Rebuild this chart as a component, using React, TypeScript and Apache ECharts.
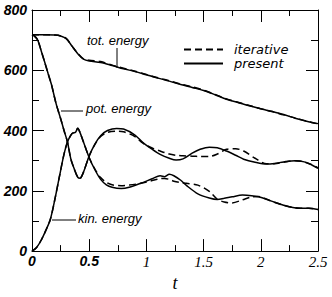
import React, { useEffect, useRef } from "react";
import * as echarts from "echarts";

// ---- data ----
const xTicks = [0, 0.5, 1, 1.5, 2, 2.5];
const yTicks = [0, 200, 400, 600, 800];

const tTot = [0, 0.1, 0.2, 0.25, 0.3, 0.35, 0.4, 0.45, 0.5, 0.6, 0.7, 0.8, 0.9, 1.0, 1.1, 1.2, 1.3, 1.4, 1.5, 1.6, 1.7, 1.8, 1.9, 2.0, 2.1, 2.2, 2.3, 2.4, 2.5];
const totPresent = [718, 718, 717, 714, 705, 680, 655, 637, 631, 626, 616, 605, 596, 585, 574, 564, 553, 543, 533, 519, 504, 493, 482, 472, 463, 453, 441, 431, 423];
const totIterative = [718, 718, 717, 714, 705, 680, 656, 638, 633, 629, 617, 607, 597, 586, 575, 565, 554, 545, 534, 520, 505, 494, 483, 472, 463, 452, 442, 431, 422];

const tPot = [0, 0.02, 0.05, 0.08, 0.11, 0.14, 0.17, 0.21, 0.25, 0.28, 0.31, 0.34, 0.37, 0.4, 0.42, 0.45, 0.5, 0.55, 0.6, 0.66, 0.74, 0.8, 0.9, 0.97, 1.05, 1.12, 1.2, 1.26, 1.32, 1.4, 1.47, 1.55, 1.62, 1.7, 1.78, 1.85, 1.95, 2.05, 2.12, 2.2, 2.3, 2.38, 2.45, 2.5];
const potPresent = [718, 714, 700, 665, 628, 590, 553, 490, 440, 400, 362, 305, 272, 245, 242, 262, 316, 355, 383, 400, 407, 405, 385, 360, 338, 321, 308, 302, 306, 325, 338, 345, 343, 332, 318, 305, 295, 289, 291, 296, 300, 296, 285, 275];
const potIterative = [718, 714, 700, 665, 628, 590, 553, 490, 440, 400, 362, 305, 272, 245, 242, 262, 316, 354, 380, 394, 398, 396, 380, 358, 342, 332, 322, 318, 316, 315, 314, 314, 322, 338, 340, 332, 308, 290, 290, 295, 300, 296, 286, 276];

const tKin = [0, 0.04, 0.08, 0.12, 0.16, 0.2, 0.24, 0.28, 0.31, 0.34, 0.36, 0.38, 0.4, 0.42, 0.45, 0.5, 0.55, 0.6, 0.65, 0.7, 0.78, 0.85, 0.95, 1.05, 1.12, 1.16, 1.2, 1.24, 1.3, 1.35, 1.45, 1.55, 1.62, 1.68, 1.75, 1.84, 1.92, 1.98, 2.05, 2.12, 2.2, 2.28, 2.35, 2.42, 2.5];
const kinPresent = [0, 12, 36, 68, 105, 172, 248, 322, 362, 385, 392, 394, 408, 393, 362, 310, 270, 238, 220, 212, 208, 212, 225, 240, 250, 247, 255, 250, 235, 218, 190, 176, 171, 175, 180, 186, 184, 180, 172, 162, 152, 145, 142, 142, 138];
const kinIterative = [0, 12, 36, 68, 105, 172, 248, 322, 362, 385, 392, 394, 408, 393, 362, 310, 272, 244, 228, 220, 217, 219, 225, 234, 240, 241, 238, 232, 227, 225, 219, 198, 172, 163, 160, 170, 180, 181, 172, 162, 152, 145, 142, 142, 138];

const seriesNames = ["iterative", "present"];

const zip = (t: number[], v: number[]) => t.map((x, i) => [x, v[i]]);

const SANS = "Liberation Sans";
const SERIF = "Liberation Serif";

export default function App() {
  const ref = useRef<HTMLDivElement>(null);
  useEffect(() => {
    if (!ref.current) return;
    const chart = echarts.init(ref.current, null, { renderer: "svg" });
    const xMin = xTicks[0];
    const xMax = xTicks[xTicks.length - 1];
    const xInt = xTicks[1] - xTicks[0];
    const yMin = yTicks[0];
    const yMax = yTicks[yTicks.length - 1];
    const yInt = yTicks[1] - yTicks[0];

    const axisLine = { show: true, onZero: false, lineStyle: { color: "#000", width: 1 } };
    const tick = { show: true, inside: true, length: 12, lineStyle: { color: "#000", width: 1 } };

    const mk = (name: string, t: number[], v: number[], dashed: boolean) => ({
      type: "line",
      name,
      data: zip(t, v),
      symbol: "none",
      smooth: 0.3,
      xAxisIndex: 0,
      yAxisIndex: 0,
      lineStyle: { color: "#000", width: 1.5, type: dashed ? [7, 4] : "solid" },
      itemStyle: { color: "#000" },
      z: dashed ? 2 : 3,
    });

    const legendBase = {
      orient: "horizontal",
      left: 183,
      itemWidth: 39,
      itemHeight: 13,
      selectedMode: false,
      padding: 0,
      itemStyle: { opacity: 0 },
      textStyle: {
        fontFamily: "DejaVu Sans",
        fontStyle: "italic",
        fontSize: 13,
        color: "#000",
        padding: [0, 0, 0, 6],
      },
    };

    const option: any = {
      animation: false,
      grid: { left: 32, right: 14, top: 10, bottom: 39 },
      legend: [
        { ...legendBase, data: [seriesNames[0]], top: 43 },
        { ...legendBase, data: [seriesNames[1]], top: 57 },
      ],
      xAxis: [
        {
          type: "value",
          min: xMin,
          max: xMax,
          interval: xInt,
          name: "t",
          nameLocation: "middle",
          nameGap: 20,
          nameTextStyle: { fontFamily: SERIF, fontStyle: "italic", fontSize: 18, color: "#000" },
          axisLine,
          axisTick: tick,
          minorTick: { show: true, splitNumber: 2, length: 6, lineStyle: { color: "#000", width: 1 } },
          splitLine: { show: false },
          axisLabel: {
            margin: 3,
            color: "#000",
            formatter: (v: number) => (v === 0 || v === 0.5 ? `{a|${v}}` : `{b|${v}}`),
            rich: {
              a: { fontFamily: SANS, fontWeight: "bold", fontStyle: "italic", fontSize: 14, color: "#000" },
              b: { fontFamily: SERIF, fontStyle: "italic", fontSize: 15, color: "#000" },
            },
          },
        },
        {
          type: "value",
          position: "top",
          min: xMin,
          max: xMax,
          interval: xInt,
          axisLine,
          axisTick: tick,
          minorTick: { show: true, splitNumber: 2, length: 6, lineStyle: { color: "#000", width: 1 } },
          splitLine: { show: false },
          axisLabel: { show: false },
        },
      ],
      yAxis: [
        {
          type: "value",
          min: yMin,
          max: yMax,
          interval: yInt,
          axisLine,
          axisTick: tick,
          minorTick: { show: true, splitNumber: 2, length: 7, lineStyle: { color: "#000", width: 1 } },
          splitLine: { show: false },
          axisLabel: {
            margin: 5,
            color: "#000",
            fontFamily: SANS,
            fontWeight: "bold",
            fontStyle: "italic",
            fontSize: 14,
          },
        },
        {
          type: "value",
          position: "right",
          min: yMin,
          max: yMax,
          interval: yInt,
          axisLine,
          axisTick: tick,
          minorTick: { show: true, splitNumber: 2, length: 7, lineStyle: { color: "#000", width: 1 } },
          splitLine: { show: false },
          axisLabel: { show: false },
        },
      ],
      series: [
        mk(seriesNames[0], tTot, totIterative, true),
        mk(seriesNames[0], tPot, potIterative, true),
        mk(seriesNames[0], tKin, kinIterative, true),
        mk(seriesNames[1], tTot, totPresent, false),
        mk(seriesNames[1], tPot, potPresent, false),
        mk(seriesNames[1], tKin, kinPresent, false),
      ],
      graphic: [
        { type: "text", left: 87, top: 34, style: { text: "tot. energy", fontFamily: SANS, fontStyle: "italic", fontSize: 13, fill: "#000" } },
        { type: "line", shape: { x1: 117, y1: 48, x2: 117, y2: 68 }, style: { stroke: "#000", lineWidth: 1 } },
        { type: "text", left: 86, top: 102, style: { text: "pot. energy", fontFamily: SANS, fontStyle: "italic", fontSize: 13, fill: "#000" } },
        { type: "line", shape: { x1: 61, y1: 111, x2: 83, y2: 111 }, style: { stroke: "#000", lineWidth: 1 } },
        { type: "text", left: 78, top: 212, style: { text: "kin. energy", fontFamily: SANS, fontStyle: "italic", fontSize: 13, fill: "#000" } },
        { type: "line", shape: { x1: 52, y1: 220, x2: 76, y2: 220 }, style: { stroke: "#000", lineWidth: 1 } },
      ],
    };
    chart.setOption(option);
    return () => chart.dispose();
  }, []);
  return (
    <div
      ref={ref}
      style={{ position: "fixed", left: 0, top: 0, width: 332, height: 297, background: "#fff" }}
    />
  );
}
